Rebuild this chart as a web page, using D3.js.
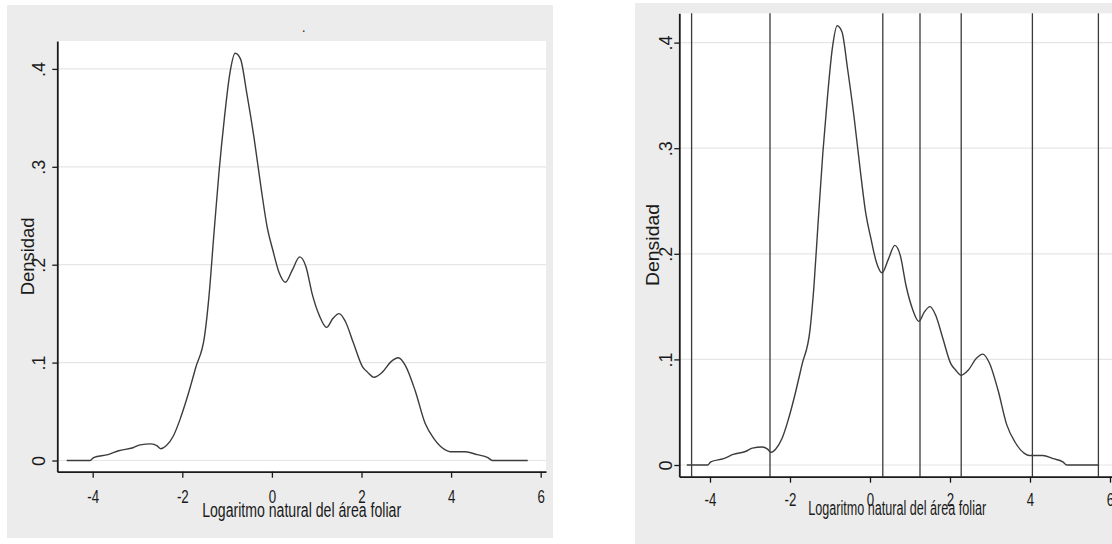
<!DOCTYPE html>
<html>
<head>
<meta charset="utf-8">
<script src="https://cdn.jsdelivr.net/npm/d3@7"></script>
<style>
  body { margin: 0; background: #fff; }
  svg { display: block; }
</style>
</head>
<body>
<svg id="chart" width="1112" height="544"></svg>
<script>
// kernel density of log leaf area
const densX = [-4.58, -4.06, -3.98, -3.66, -3.42, -3.10, -2.94, -2.70, -2.56, -2.48, -2.36, -2.20,
  -2.05, -1.90, -1.70, -1.50, -1.40, -1.30, -1.18, -1.06, -0.94, -0.82, -0.70, -0.56, -0.40,
  -0.24, -0.10, 0.02, 0.16, 0.30, 0.46, 0.62, 0.76, 0.90, 1.06, 1.22, 1.36, 1.50, 1.64, 1.82,
  2.02, 2.14, 2.28, 2.46, 2.66, 2.82, 2.98, 3.20, 3.42, 3.62, 3.86, 3.98, 4.32, 4.58, 4.82, 4.92, 5.71];
const densY = [0, 0, 0.003, 0.006, 0.010, 0.013, 0.016, 0.017, 0.015, 0.012, 0.015, 0.025,
  0.042, 0.063, 0.095, 0.128, 0.170, 0.228, 0.295, 0.350, 0.395, 0.416, 0.410, 0.375, 0.330,
  0.278, 0.237, 0.215, 0.192, 0.182, 0.195, 0.208, 0.198, 0.170, 0.148, 0.136, 0.145, 0.150, 0.142, 0.120,
  0.096, 0.090, 0.085, 0.090, 0.101, 0.105, 0.097, 0.071, 0.038, 0.022, 0.011, 0.009, 0.009, 0.006, 0.003, 0, 0];

const xTicks = [-4, -2, 0, 2, 4, 6];
const xTickLabels = ['-4', '-2', '0', '2', '4', '6'];
const yTicks = [0, 0.1, 0.2, 0.3, 0.4];
const yTickLabels = ['0', '.1', '.2', '.3', '.4'];
// vertical lines of the right panel (group limits)
const cutPoints = [-4.46, -2.50, 0.32, 1.25, 2.28, 4.06, 5.71];

const xTitle = 'Logaritmo natural del área foliar';
const yTitle = 'Densidad';

const points = densX.map((x, i) => ({ x: x, y: densY[i] }));

const panels = [
  { bg: [7, 5, 553, 538], plot: [57.3, 41, 546, 471.7], xPx: [92.7, 540.7], yPx: [460.5, 68.9],
    xTickBase: 31, xTitleBase: 45.5, xTitleLen: 199, yTickBase: -12, yTitleX: 34, yTitleLen: 78,
    title: '.', cuts: false },
  { bg: [635, 3, 1112, 544], plot: [679.3, 13.3, 1115, 476.7], xPx: [710, 1110], yPx: [465, 42.6],
    xTickBase: 29, xTitleBase: 38.5, xTitleLen: 178, yTickBase: -7.5, yTitleX: 658.6, yTitleLen: 82,
    title: null, cuts: true }
];

const svg = d3.select('#chart');
const sans = '"Liberation Sans", Arial, sans-serif';

panels.forEach(p => {
  const [l, t, r, b] = p.plot;

  // scales built from the tick anchors, then stretched to the plot edges
  const x0 = d3.scaleLinear().domain([-4, 6]).range(p.xPx);
  const y0 = d3.scaleLinear().domain([0, 0.4]).range(p.yPx);
  const x = d3.scaleLinear().domain([x0.invert(l), x0.invert(r)]).range([l, r]);
  const y = d3.scaleLinear().domain([y0.invert(b), y0.invert(t)]).range([b, t]);

  svg.append('rect')
    .attr('x', p.bg[0]).attr('y', p.bg[1])
    .attr('width', p.bg[2] - p.bg[0]).attr('height', p.bg[3] - p.bg[1])
    .attr('fill', '#ececec');

  svg.append('rect')
    .attr('x', l).attr('y', t)
    .attr('width', r - l).attr('height', b - t)
    .attr('fill', '#fff');

  // gridlines
  svg.append('g')
    .selectAll('line')
    .data(yTicks)
    .enter().append('line')
    .attr('x1', l).attr('x2', r)
    .attr('y1', d => y(d)).attr('y2', d => y(d))
    .attr('stroke', '#e6e6e6')
    .attr('stroke-width', 1.2);

  if (p.cuts) {
    svg.append('g')
      .selectAll('line')
      .data(cutPoints)
      .enter().append('line')
      .attr('x1', d => x(d)).attr('x2', d => x(d))
      .attr('y1', t).attr('y2', b)
      .attr('stroke', '#3a3a3a')
      .attr('stroke-width', 1.3);
  }

  const line = d3.line()
    .x(d => x(d.x))
    .y(d => y(d.y))
    .curve(d3.curveMonotoneX);

  svg.append('path')
    .datum(points)
    .attr('d', line)
    .attr('fill', 'none')
    .attr('stroke', '#3c3c3c')
    .attr('stroke-width', 1.4);

  // x axis
  const gx = svg.append('g')
    .attr('transform', `translate(0,${b})`)
    .call(d3.axisBottom(x).tickValues(xTicks).tickSize(6).tickSizeOuter(0)
      .tickFormat((d, i) => xTickLabels[i]));
  gx.select('.domain').attr('stroke', '#1a1a1a').attr('stroke-width', 1.8);
  gx.selectAll('.tick line').attr('stroke', '#1a1a1a').attr('stroke-width', 1.3);
  gx.selectAll('.tick text')
    .attr('x', 0).attr('y', 0).attr('dy', null)
    .attr('transform', `translate(0,${p.xTickBase}) scale(0.7,1)`)
    .attr('fill', '#1a1a1a')
    .style('font-family', sans)
    .style('font-size', '19px');

  svg.append('text')
    .attr('x', (l + r) / 2)
    .attr('y', b + p.xTitleBase)
    .attr('text-anchor', 'middle')
    .attr('textLength', p.xTitleLen)
    .attr('lengthAdjust', 'spacingAndGlyphs')
    .attr('fill', '#1a1a1a')
    .style('font-family', sans)
    .style('font-size', '19.5px')
    .text(xTitle);

  // y axis
  const gy = svg.append('g')
    .attr('transform', `translate(${l},0)`)
    .call(d3.axisLeft(y).tickValues(yTicks).tickSize(5).tickSizeOuter(0)
      .tickFormat((d, i) => yTickLabels[i]));
  gy.select('.domain').attr('stroke', '#1a1a1a').attr('stroke-width', 1.8);
  gy.selectAll('.tick line').attr('stroke', '#1a1a1a').attr('stroke-width', 1.3);
  gy.selectAll('.tick text')
    .attr('transform', 'rotate(-90)')
    .attr('x', 0).attr('y', p.yTickBase).attr('dy', null)
    .attr('text-anchor', 'middle')
    .attr('fill', '#1a1a1a')
    .style('font-family', sans)
    .style('font-size', '18px');

  const yc = (t + b) / 2;
  svg.append('text')
    .attr('transform', `translate(${p.yTitleX},${yc}) rotate(-90)`)
    .attr('text-anchor', 'middle')
    .attr('textLength', p.yTitleLen)
    .attr('lengthAdjust', 'spacingAndGlyphs')
    .attr('fill', '#1a1a1a')
    .style('font-family', sans)
    .style('font-size', '18px')
    .text(yTitle);

  if (p.title) {
    svg.append('text')
      .attr('x', (l + r) / 2 + 2)
      .attr('y', t - 9)
      .attr('text-anchor', 'middle')
      .attr('fill', '#333')
      .style('font-family', sans)
      .style('font-size', '14px')
      .text(p.title);
  }
});
</script>
</body>
</html>
